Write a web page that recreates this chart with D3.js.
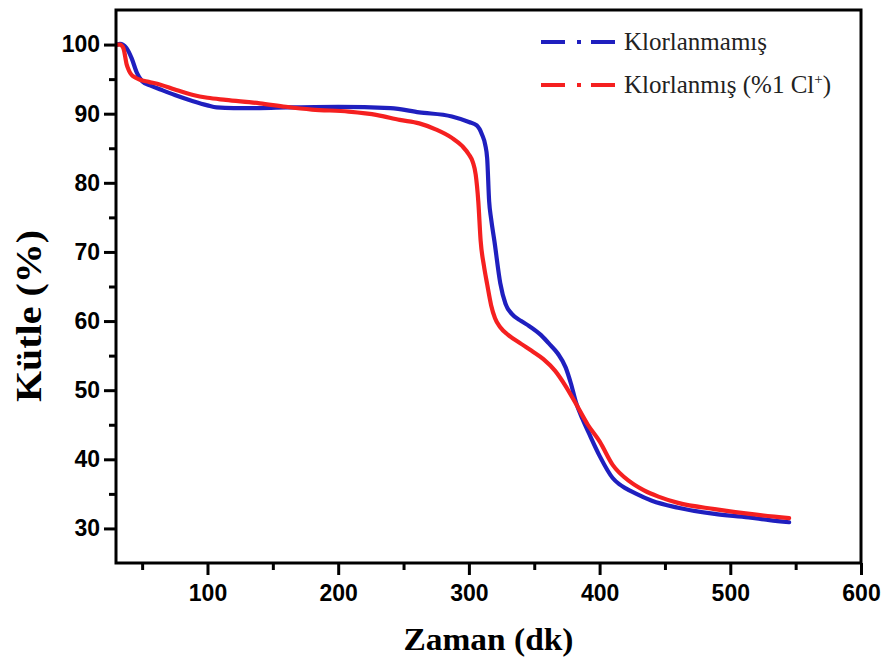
<!DOCTYPE html>
<html>
<head>
<meta charset="utf-8">
<script src="https://cdn.jsdelivr.net/npm/d3@7"></script>
<style>
  html, body { margin: 0; padding: 0; background: #fff; }
  svg { display: block; }
</style>
</head>
<body>
<svg id="chart" width="884" height="661"></svg>
<script>
// ---- Data ----
const seriesNames = ["Klorlanmamış", "Klorlanmış (%1 Cl"];
const blueTime = [31, 33, 38, 42, 46, 50, 56, 64, 75, 89, 100, 107, 120, 140, 160, 200, 240, 262, 287, 300, 306, 310, 312.5, 314, 315.5, 317, 319.5, 324, 328, 333, 340, 346, 355, 361, 368, 374, 378, 382, 387, 392, 400, 410, 415, 420, 427, 440, 460, 488, 514, 530, 545];
const blueMass = [100, 100.1, 99.5, 98, 95.9, 94.7, 94.1, 93.5, 92.7, 91.8, 91.2, 90.9, 90.8, 90.8, 90.9, 91, 90.8, 90.2, 89.6, 88.8, 88.3, 87, 85.5, 83.5, 77.3, 74.8, 71.6, 65.5, 62.5, 61, 60, 59.3, 58, 56.8, 55.3, 53.3, 51, 48.2, 45.8, 43.7, 40.5, 37.3, 36.4, 35.8, 35.1, 34, 33, 32.1, 31.6, 31.2, 30.9];
const redTime = [31, 33, 35.6, 38.2, 40, 42, 45, 48.3, 55, 64, 75, 89, 100, 114, 140, 160, 180, 208, 230, 247, 262, 275, 287, 295, 300, 303, 305.2, 307.2, 309, 311.5, 314, 317, 320, 324, 330, 340, 348, 357, 366, 374, 382, 391, 400, 410, 423, 434, 445, 460, 488, 515, 545];
const redMass = [100, 100, 99.5, 97.1, 96.2, 95.6, 95.2, 94.9, 94.6, 94.2, 93.5, 92.7, 92.3, 92, 91.5, 91, 90.6, 90.3, 89.8, 89.1, 88.6, 87.7, 86.5, 85.3, 84.1, 83, 81.2, 77.3, 71.6, 68, 65.3, 62.3, 60.4, 59.1, 58, 56.7, 55.7, 54.5, 52.8, 50.6, 48, 45, 42.6, 39.2, 36.8, 35.5, 34.6, 33.7, 32.8, 32.1, 31.5];
const xMajorTicks = [100, 200, 300, 400, 500, 600];
const xMinorTicks = [50, 150, 250, 350, 450, 550];
const yMajorTicks = [30, 40, 50, 60, 70, 80, 90, 100];
const yMinorTicks = [35, 45, 55, 65, 75, 85, 95];
const colors = ["#1f1fbf", "#f52020"];

// ---- Layout ----
const svg = d3.select("#chart");
const mLeft = 116, mRight = 861, mTop = 10, mBottom = 563;
const x = d3.scaleLinear().domain([30, 600]).range([mLeft, mRight]);
const y = d3.scaleLinear().domain([25, 105]).range([mBottom, mTop]);

const tickFont = "'Liberation Sans', Arial, sans-serif";
const serif = "'Liberation Serif', 'Times New Roman', serif";

// curves
const line = d3.line().x(d => x(d[0])).y(d => y(d[1])).curve(d3.curveMonotoneX);
const seriesData = [
  d3.zip(blueTime, blueMass),
  d3.zip(redTime, redMass)
];
svg.append("g").selectAll("path").data(seriesData).join("path")
  .attr("d", line)
  .attr("fill", "none")
  .attr("stroke", (d, i) => colors[i])
  .attr("stroke-width", 4.2)
  .attr("stroke-linejoin", "round")
  .attr("stroke-linecap", "round");

// axes
function styleAxis(g) {
  g.select(".domain").remove();
  g.selectAll(".tick line").attr("stroke", "#000").attr("stroke-width", 3);
  g.selectAll(".tick text").attr("fill", "#000")
    .attr("font-family", tickFont).attr("font-weight", "bold").attr("font-size", 23);
}
svg.append("g").attr("transform", `translate(0,${mBottom})`)
  .call(d3.axisBottom(x).tickValues(xMajorTicks).tickSize(12).tickPadding(10).tickSizeOuter(0))
  .call(styleAxis);
svg.append("g").attr("transform", `translate(0,${mBottom})`)
  .call(d3.axisBottom(x).tickValues(xMinorTicks).tickSize(7).tickFormat("").tickSizeOuter(0))
  .call(styleAxis);
svg.append("g").attr("transform", `translate(${mLeft},0)`)
  .call(d3.axisLeft(y).tickValues(yMajorTicks).tickSize(12).tickPadding(4).tickSizeOuter(0))
  .call(styleAxis);
svg.append("g").attr("transform", `translate(${mLeft},0)`)
  .call(d3.axisLeft(y).tickValues(yMinorTicks).tickSize(7).tickFormat("").tickSizeOuter(0))
  .call(styleAxis);

// frame
svg.append("rect")
  .attr("x", mLeft).attr("y", mTop)
  .attr("width", mRight - mLeft).attr("height", mBottom - mTop)
  .attr("fill", "none").attr("stroke", "#000").attr("stroke-width", 3);

// axis titles
svg.append("text")
  .attr("x", (mLeft + mRight) / 2).attr("y", 650)
  .attr("text-anchor", "middle")
  .attr("font-family", serif).attr("font-weight", "bold").attr("font-size", 31)
  .attr("textLength", 170).attr("lengthAdjust", "spacingAndGlyphs")
  .text("Zaman (dk)");
svg.append("text")
  .attr("transform", "translate(41,316) rotate(-90)")
  .attr("text-anchor", "middle")
  .attr("font-family", serif).attr("font-weight", "bold").attr("font-size", 35)
  .attr("textLength", 172).attr("lengthAdjust", "spacingAndGlyphs")
  .text("Kütle (%)");

// legend
const legendY = [42, 85];
const lg = svg.append("g");
seriesNames.forEach((name, i) => {
  lg.append("line")
    .attr("x1", 541).attr("x2", 615)
    .attr("y1", legendY[i]).attr("y2", legendY[i])
    .attr("stroke", colors[i]).attr("stroke-width", 4)
    .attr("stroke-dasharray", "24 12 4 10 24 100");
  const t = lg.append("text")
    .attr("x", 624).attr("y", legendY[i] + 8)
    .attr("font-family", serif).attr("font-size", 25).attr("fill", "#222")
    .text(name);
  if (i === 1) {
    t.append("tspan").attr("font-size", 15).attr("dy", -9).text("+");
    t.append("tspan").attr("dy", 9).text(")");
  }
});
</script>
</body>
</html>
